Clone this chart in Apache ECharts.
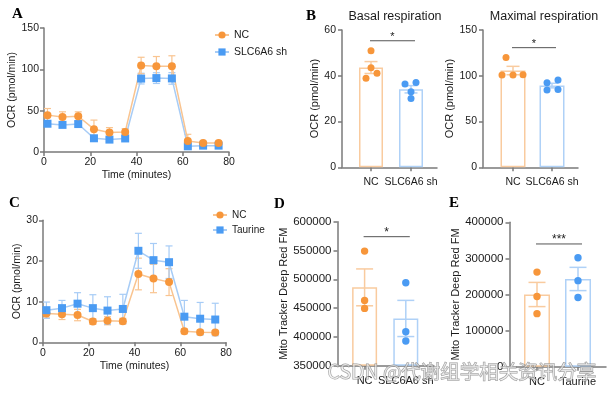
<!DOCTYPE html>
<html><head><meta charset="utf-8">
<script src="https://cdn.jsdelivr.net/npm/echarts@6/dist/echarts.min.js"></script>
<style>html,body{margin:0;padding:0;background:#fff}#c{width:613px;height:393px}</style>
</head><body><div id="c"></div>
<script>
// ---------------- DATA ----------------
// Panel A: OCR time course, NC vs SLC6A6 sh
const timeA   = [1.5, 8.0, 14.8, 21.6, 28.3, 35.1, 42.0, 48.6, 55.3, 62.2, 68.8, 75.5];
const ncA     = [44.6, 42.2, 43.2, 27.6, 23.5, 24.3, 104.6, 103.8, 103.8, 13.4, 11.0, 11.0];
const ncAErr  = [8.0, 6.4, 5.4, 11.0, 6.0, 4.0, 10.0, 11.7, 12.6, 8.0, 2.0, 2.0];
const shA     = [34.2, 32.8, 33.8, 16.6, 15.0, 16.4, 88.8, 89.4, 89.0, 6.9, 7.7, 7.7];
const shAErr  = [3.0, 2.5, 3.0, 3.0, 2.5, 2.0, 6.5, 6.5, 7.0, 3.0, 2.0, 2.0];
// Panel C: OCR time course, NC vs Taurine
const timeC   = [1.5, 8.3, 15.1, 21.8, 28.2, 34.9, 41.7, 48.3, 55.1, 61.8, 68.7, 75.3];
const ncC     = [7.1, 6.9, 6.7, 5.1, 5.3, 5.2, 16.8, 15.7, 14.8, 2.7, 2.5, 2.4];
const ncCErr  = [1.1, 1.3, 1.4, 0.7, 1.0, 0.7, 3.9, 3.5, 3.3, 0.6, 0.5, 0.5];
const taC     = [7.9, 8.4, 9.5, 8.4, 7.8, 8.2, 22.5, 20.2, 19.7, 6.3, 5.8, 5.6];
const taCErr  = [2.0, 1.9, 2.7, 3.3, 3.4, 3.6, 4.3, 4.1, 4.0, 4.0, 4.0, 4.0];
// Panel B
const groupsB      = ['NC', 'SLC6A6 sh'];
const basalMean    = [43.6, 34.1];
const basalSem     = [2.6, 1.6];
const basalNC      = [50.9, 43.5, 38.9, 41.1];
const basalSH      = [36.4, 37.1, 33.0, 30.1];
const maximalMean  = [105.7, 89.3];
const maximalSem   = [4.6, 2.5];
const maximalNC    = [120.0, 100.8, 100.8, 101.2];
const maximalSH    = [92.5, 95.5, 84.5, 85.0];
// Panel D
const groupsD  = ['NC', 'SLC6A6 sh'];
const dMean    = [486000, 432000];
const dSem     = [32000, 31400];
const dNC      = [549000, 463400, 449500];
const dSH      = [494100, 409000, 392800];
// Panel E
const groupsE  = ['NC', 'Taurine'];
const eMean    = [200000, 243000];
const eSem     = [33500, 32200];
const eNC      = [262000, 194500, 147000];
const eTA      = [302000, 238300, 191500];
// significance labels
const sigB1 = '*', sigB2 = '*', sigD = '*', sigE = '***';

// ---------------- STYLE ----------------
const FONT = '"Liberation Sans", Arial, sans-serif';
const SERIF = '"Liberation Serif", "Times New Roman", serif';
const ORANGE = '#F7963A', ORANGE_L = '#F9C490', BLUE = '#4A9BF3', BLUE_L = '#A7CCF6';
const BAR_O = '#F9CB9F', BAR_B = '#AFD1F7';
const AXIS = '#7a7a7a', TXT = '#1a1a1a';
const plain = v => String(v);

const option = {animation: false, backgroundColor: '#fff', grid: [], xAxis: [], yAxis: [], series: [], legend: [], title: [], graphic: []};

function addGrid(r) {
  option.grid.push({left: r.left, top: r.top, width: r.width, height: r.height, containLabel: false, outerBoundsMode: 'none'});
  return option.grid.length - 1;
}

function errSeries(xi, yi, xs, ys, es, color, cap, lw, z) {
  return {
    type: 'custom', xAxisIndex: xi, yAxisIndex: yi, z: z, silent: true, clip: false,
    data: xs.map((x, i) => [x, ys[i] - es[i], ys[i] + es[i]]),
    encode: {x: 0, y: [1, 2]},
    renderItem: (params, api) => {
      const x = api.value(0);
      const lo = api.coord([x, api.value(1)]), hi = api.coord([x, api.value(2)]);
      const st = {stroke: color, lineWidth: lw, fill: null};
      return {type: 'group', children: [
        {type: 'line', shape: {x1: lo[0], y1: lo[1], x2: hi[0], y2: hi[1]}, style: st},
        {type: 'line', shape: {x1: hi[0] - cap, y1: hi[1], x2: hi[0] + cap, y2: hi[1]}, style: st},
        {type: 'line', shape: {x1: lo[0] - cap, y1: lo[1], x2: lo[0] + cap, y2: lo[1]}, style: st}
      ]};
    }
  };
}

function linePanel(p) {
  const gi = addGrid(p.rect);
  option.xAxis.push({type: 'value', gridIndex: gi, min: 0, max: 80, interval: 20,
    name: 'Time (minutes)', nameLocation: 'middle', nameGap: p.xNameGap,
    nameTextStyle: {fontSize: p.titleSize, color: TXT, fontFamily: FONT},
    axisLine: {show: true, onZero: false, lineStyle: {color: AXIS, width: 1.5}},
    axisTick: {show: true, length: 4, lineStyle: {color: AXIS, width: 1.5}},
    axisLabel: {fontSize: p.tickSize, color: TXT, fontFamily: FONT, margin: 5, formatter: plain},
    splitLine: {show: false}});
  option.yAxis.push({type: 'value', gridIndex: gi, min: 0, max: p.ymax, interval: p.yint,
    name: 'OCR (pmol/min)', nameLocation: 'middle', nameGap: p.yNameGap,
    nameTextStyle: {fontSize: p.titleSize, color: TXT, fontFamily: FONT},
    axisLine: {show: true, lineStyle: {color: AXIS, width: 1.5}},
    axisTick: {show: true, length: 4, lineStyle: {color: AXIS, width: 1.5}},
    axisLabel: {fontSize: p.tickSize, color: TXT, fontFamily: FONT, margin: 5, formatter: plain},
    splitLine: {show: false}});
  const xi = option.xAxis.length - 1, yi = option.yAxis.length - 1;
  p.series.forEach(s => option.series.push(errSeries(xi, yi, p.times, s.values, s.errs, s.light, 3.5, 1.2, 2)));
  p.series.forEach(s => option.series.push({
    type: 'line', name: s.name, xAxisIndex: xi, yAxisIndex: yi, z: 3,
    data: p.times.map((t, i) => [t, s.values[i]]),
    symbol: s.symbol, symbolSize: 8, showAllSymbol: true,
    itemStyle: {color: s.color}, lineStyle: {color: s.light, width: 1.5}
  }));
}

function barPanel(p) {
  const fs = p.font;
  const go = addGrid({left: p.axisX, top: p.top, width: p.xEnd - p.axisX, height: p.height});
  option.xAxis.push({type: 'category', gridIndex: go, data: p.cats,
    axisLine: {show: true, onZero: false, lineStyle: {color: AXIS, width: 1.5}},
    axisTick: {show: false}, axisLabel: {show: false}, splitLine: {show: false}});
  option.yAxis.push({type: 'value', gridIndex: go, min: p.min, max: p.max, interval: p.interval,
    name: p.yName, nameLocation: 'middle', nameGap: p.yNameGap,
    nameTextStyle: {fontSize: fs.title, color: TXT, fontFamily: FONT},
    axisLine: {show: true, lineStyle: {color: AXIS, width: 1.5}},
    axisTick: {show: true, length: 4, lineStyle: {color: AXIS, width: 1.5}},
    axisLabel: {fontSize: fs.tick, color: TXT, fontFamily: FONT, margin: 6, formatter: plain},
    splitLine: {show: false}});
  const sp = p.c2 - p.c1;
  const gi = addGrid({left: p.c1 - sp / 2, top: p.top, width: 2 * sp, height: p.height});
  option.xAxis.push({type: 'category', gridIndex: gi, data: p.cats,
    axisLine: {show: false, onZero: false},
    axisTick: {show: true, alignWithLabel: true, length: 4, lineStyle: {color: AXIS, width: 1.5}},
    axisLabel: {fontSize: fs.cat, color: TXT, fontFamily: FONT, margin: p.catMargin, interval: 0},
    splitLine: {show: false}});
  option.yAxis.push({type: 'value', gridIndex: gi, min: p.min, max: p.max, interval: p.interval, startValue: p.min, show: false});
  const xi = option.xAxis.length - 1, yi = option.yAxis.length - 1;
  const light = [BAR_O, BAR_B], dark = [ORANGE, BLUE];
  option.series.push({type: 'bar', xAxisIndex: xi, yAxisIndex: yi, barWidth: p.barW, z: 1, clip: true,
    data: p.means.map((m, i) => ({value: m, itemStyle: {color: 'rgba(255,255,255,0)', borderColor: light[i], borderWidth: 1.5}}))});
  p.cats.forEach((c, i) => option.series.push(errSeries(xi, yi, [c], [p.means[i]], [p.sems[i]], light[i], p.cap, 1.5, 2)));
  p.points.forEach((pts, gidx) => {
    option.series.push({type: 'custom', xAxisIndex: xi, yAxisIndex: yi, z: 4, silent: true,
      data: pts.map((v, k) => [p.cats[gidx], v, p.jitter[gidx][k]]),
      encode: {x: 0, y: 1},
      renderItem: (params, api) => {
        const c = api.coord([api.value(0), api.value(1)]);
        return {type: 'circle', shape: {cx: c[0] + api.value(2), cy: c[1], r: p.dotR}, style: {fill: dark[gidx]}};
      }});
  });
  // significance bracket
  option.series.push({type: 'custom', xAxisIndex: xi, yAxisIndex: yi, z: 5, silent: true, clip: false,
    data: [[p.cats[0], p.sigY, p.cats[1]]],
    encode: {x: 0, y: 1},
    renderItem: (params, api) => {
      const a = api.coord([0, api.value(1)]), b = api.coord([1, api.value(1)]);
      return {type: 'group', children: [
        {type: 'line', shape: {x1: a[0] - 1, y1: a[1], x2: b[0] + 4, y2: b[1]}, style: {stroke: '#555', lineWidth: 1}},
        {type: 'text', style: {text: p.sig, x: (a[0] + b[0]) / 2 + 1.5, y: a[1] + 2, align: 'center', verticalAlign: 'bottom',
          fontSize: fs.star, fontFamily: FONT, fill: '#222'}}
      ]};
    }});
}

// ---------------- PANELS ----------------
linePanel({rect: {left: 44, top: 28, width: 185, height: 124}, ymax: 150, yint: 50,
  tickSize: 10.5, titleSize: 10.5, xNameGap: 18, yNameGap: 20, times: timeA,
  series: [
    {name: 'SLC6A6 sh', values: shA, errs: shAErr, color: BLUE, light: BLUE_L, symbol: 'rect'},
    {name: 'NC', values: ncA, errs: ncAErr, color: ORANGE, light: ORANGE_L, symbol: 'circle'}
  ]});
linePanel({rect: {left: 43, top: 220.3, width: 183, height: 122}, ymax: 30, yint: 10,
  tickSize: 10.5, titleSize: 10.5, xNameGap: 18, yNameGap: 19, times: timeC,
  series: [
    {name: 'NC', values: ncC, errs: ncCErr, color: ORANGE, light: ORANGE_L, symbol: 'circle'},
    {name: 'Taurine', values: taC, errs: taCErr, color: BLUE, light: BLUE_L, symbol: 'rect'}
  ]});

const fontB = {tick: 10.5, title: 11, cat: 10.5, star: 11};
const fontDE = {tick: 11.5, title: 11, cat: 11, star: 12};
barPanel({axisX: 342, xEnd: 437, c1: 371, c2: 411, top: 30, height: 137.3, min: 0, max: 60, interval: 20,
  yName: 'OCR (pmol/min)', yNameGap: 17, cats: groupsB, means: basalMean, sems: basalSem,
  points: [basalNC, basalSH], jitter: [[0, 0, -5, 6], [-6, 5, 0, 0]], barW: 24, cap: 6.5, dotR: 3.5,
  sig: sigB1, sigY: 55.3, font: fontB, catMargin: 9});
barPanel({axisX: 483, xEnd: 578, c1: 513, c2: 552, top: 30, height: 137.3, min: 0, max: 150, interval: 50,
  yName: 'OCR (pmol/min)', yNameGap: 23, cats: groupsB, means: maximalMean, sems: maximalSem,
  points: [maximalNC, maximalSH], jitter: [[-7, -11, 0, 10], [-5, 6, -5, 6]], barW: 25, cap: 6.5, dotR: 3.5,
  sig: sigB2, sigY: 130.7, font: fontB, catMargin: 9});
barPanel({axisX: 337.5, xEnd: 434, c1: 364.6, c2: 405.8, top: 221.7, height: 144, min: 350000, max: 600000, interval: 50000,
  yName: 'Mito Tracker Deep Red FM', yNameGap: 48, cats: groupsD, means: dMean, sems: dSem,
  points: [dNC, dSH], jitter: [[0, 0, 0], [0, 0, 0]], barW: 25, cap: 8.5, dotR: 3.7,
  sig: sigD, sigY: 574000, font: fontDE, catMargin: 10});
barPanel({axisX: 509.5, xEnd: 606, c1: 537, c2: 578, top: 222.3, height: 144.4, min: 0, max: 400000, interval: 100000,
  yName: 'Mito Tracker Deep Red FM', yNameGap: 48, cats: groupsE, means: eMean, sems: eSem,
  points: [eNC, eTA], jitter: [[0, 0, 0], [0, 0, 0]], barW: 26, cap: 8.5, dotR: 3.7,
  sig: sigE, sigY: 340000, font: fontDE, catMargin: 10});

// legends
option.legend.push({data: ['NC', 'SLC6A6 sh'], orient: 'vertical', left: 209, top: 24, itemWidth: 14, itemHeight: 9, itemGap: 5,
  selectedMode: false, textStyle: {fontSize: 10.5, fontFamily: FONT, color: TXT, lineHeight: 12}});
option.legend.push({data: ['NC', 'Taurine'], orient: 'vertical', left: 207, top: 204, itemWidth: 14, itemHeight: 9, itemGap: 3,
  selectedMode: false, textStyle: {fontSize: 10, fontFamily: FONT, color: TXT, lineHeight: 12}});

// titles
option.title.push({text: 'Basal respiration', left: 390, top: 5, textAlign: 'center',
  textStyle: {fontSize: 12.5, fontWeight: 'normal', fontFamily: FONT, color: TXT}});
option.title.push({text: 'Maximal respiration', left: 539, top: 5, textAlign: 'center',
  textStyle: {fontSize: 12.5, fontWeight: 'normal', fontFamily: FONT, color: TXT}});

// panel letters + watermark
const letters = [['A', 12, 15], ['B', 306, 17], ['C', 9, 203.5], ['D', 274, 204.5], ['E', 449, 204]];
letters.forEach(([t, x, y]) => option.graphic.push({type: 'text', left: x, top: y - 8, silent: true,
  style: {text: t, font: 'bold 15px ' + SERIF, fill: '#000'}}));
option.graphic.push({type: 'text', left: 327, top: 361, z: 100, silent: true,
  style: {text: 'CSDN @代谢组学相关资讯分享', font: '19.5px "Noto Sans CJK SC", "Liberation Sans", sans-serif',
    fill: 'rgba(255,255,255,0.55)', stroke: 'rgba(120,120,120,0.75)', lineWidth: 1}});

const chart = echarts.init(document.getElementById('c'), null, {renderer: 'canvas', width: 613, height: 393});
chart.setOption(option);
</script>
</body></html>
